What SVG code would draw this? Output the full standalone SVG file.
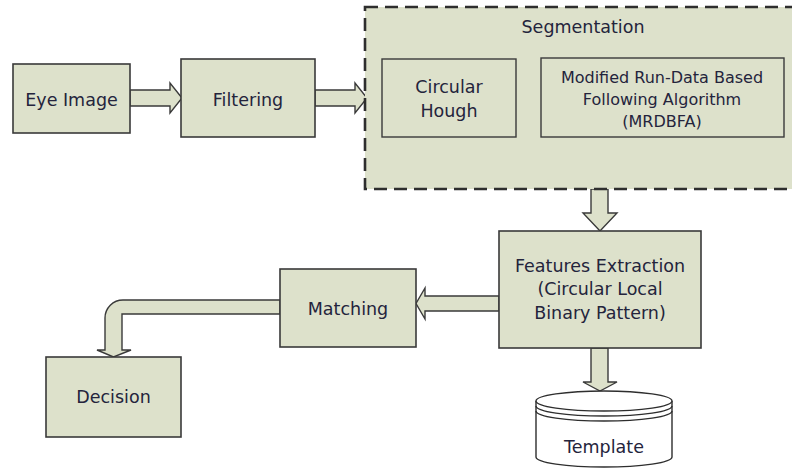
<svg xmlns="http://www.w3.org/2000/svg" width="792" height="470" viewBox="0 0 792 470">
<style>
.box{fill:#DDE1CB;stroke:#3a3a3a;stroke-width:1.6}
.inner{fill:#DDE1CB;stroke:#3a3a3a;stroke-width:1.4}
.seg{fill:#DDE1CB;stroke:#2e2e2e;stroke-width:2.6;stroke-dasharray:13 7}
.arr{fill:#DDE1CB;stroke:#3a3a3a;stroke-width:1.4;stroke-linejoin:miter}
.db{fill:#ffffff;stroke:#2e2e2e;stroke-width:1.4}
text{font-family:"DejaVu Sans","Liberation Sans",sans-serif;font-size:17.5px;fill:#24243c;text-anchor:middle}
.sm{font-size:16px}
</style>
<rect width="792" height="470" fill="#ffffff"/>
<g id="connectors">
<polygon class="arr" points="130,90 170,90 170,83 182,98 170,113 170,106 130,106"/>
<polygon class="arr" points="315,90 355,90 355,83 367,98 355,113 355,106 315,106"/>
<polygon class="arr" points="591,189 608,189 608,213 617,213 600,231 583,213 591,213"/>
<polygon class="arr" points="499,296 425,296 425,288 416,303.5 425,319 425,311 499,311"/>
<polygon class="arr" points="591,348 608,348 608,382 617,382 600,391 583,382 591,382"/>
<path class="arr" d="M280,300 L123,300 A18,18 0 0 0 105,318 L105,350 L97,350 L113.5,357 L131,350 L122,350 L122,314 L280,314 Z"/>
</g>
<g id="eye-image">
<rect class="box" x="13" y="64" width="117" height="69"/>
<text x="71.5" y="106">Eye Image</text>
</g>
<g id="filtering">
<rect class="box" x="181" y="59" width="134" height="78"/>
<text x="248" y="106">Filtering</text>
</g>
<g id="segmentation">
<rect class="seg" x="365" y="7" width="430" height="182"/>
<text x="583" y="33">Segmentation</text>
</g>
<g id="circular-hough">
<rect class="inner" x="382" y="59" width="134" height="78"/>
<text x="449" y="93">Circular</text>
<text x="449" y="117">Hough</text>
</g>
<g id="mrdbfa">
<rect class="inner" x="541" y="58" width="243" height="79"/>
<text class="sm" x="662" y="83">Modified Run-Data Based</text>
<text class="sm" x="662" y="105">Following Algorithm</text>
<text class="sm" x="662" y="127">(MRDBFA)</text>
</g>
<g id="features-extraction">
<rect class="box" x="499" y="231" width="202" height="117"/>
<text x="600" y="272">Features Extraction</text>
<text x="600" y="295">(Circular Local</text>
<text x="600" y="319">Binary Pattern)</text>
</g>
<g id="matching">
<rect class="box" x="280" y="269" width="136" height="78"/>
<text x="348" y="315">Matching</text>
</g>
<g id="decision">
<rect class="box" x="46" y="357" width="135" height="80"/>
<text x="113.5" y="403">Decision</text>
</g>
<g id="template">
<path class="db" d="M536,401 L536,457 A68,10 0 0 0 672,457 L672,401 A68,10 0 0 0 536,401 Z"/>
<path class="db" fill="none" d="M536,401 A68,10 0 0 0 672,401"/>
<path fill="none" stroke="#2e2e2e" stroke-width="1.4" d="M536,406 A68,10 0 0 0 672,406 M536,411 A68,10 0 0 0 672,411"/>
<text x="604" y="453">Template</text>
</g>
</svg>
